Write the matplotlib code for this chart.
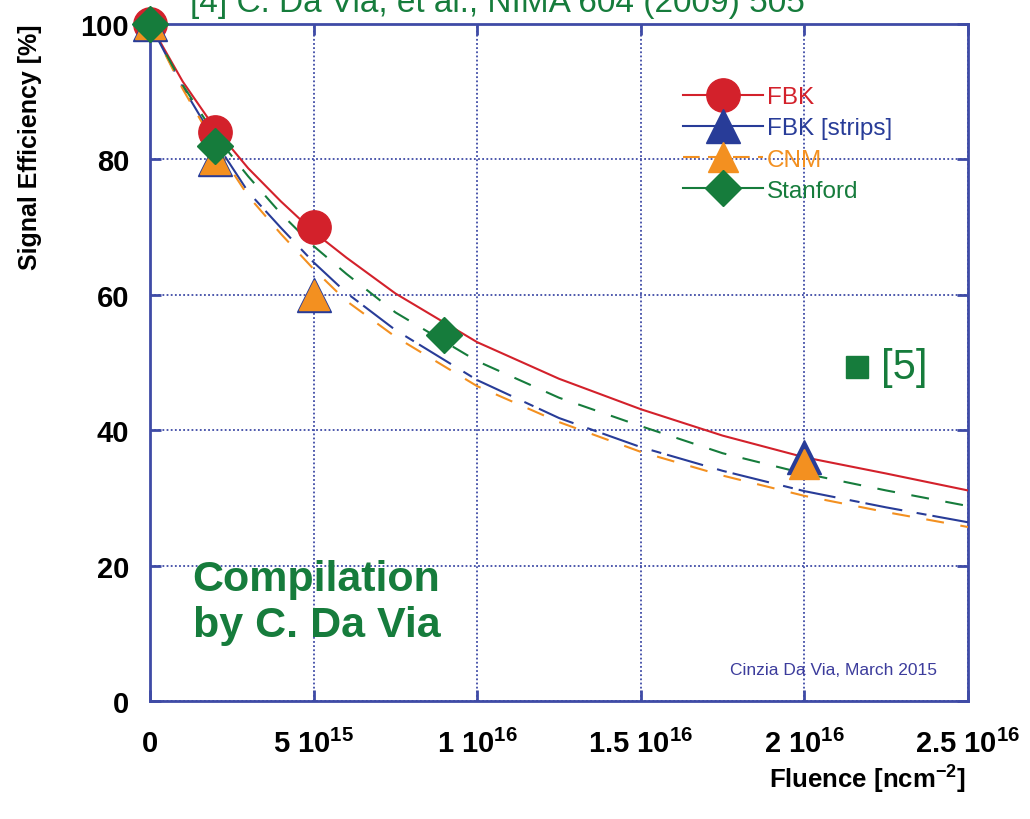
import matplotlib
matplotlib.use("Agg")
import matplotlib.pyplot as plt
from matplotlib.ticker import FixedLocator, FixedFormatter

plt.rcParams['mathtext.fontset'] = 'custom'
plt.rcParams['mathtext.rm'] = 'Liberation Sans:bold'
plt.rcParams['mathtext.it'] = 'Liberation Sans:bold'
plt.rcParams['mathtext.bf'] = 'Liberation Sans:bold'
plt.rcParams['mathtext.default'] = 'rm'

SANS = ['Liberation Sans', 'DejaVu Sans']

# fitted curves, fluence in units of 1e15
curve_x = [0, 1, 2, 3, 4, 5, 6, 7.5, 10, 12.5, 15, 17.5, 20, 22.5, 25]
fbk_curve = [100, 91.5, 84.5, 78.7, 73.8, 69.3, 65.5, 60.2, 53.0, 47.6, 43.1, 39.2, 36.0, 33.6, 31.1]
strips_curve = [100, 90.7, 82.6, 75.2, 69.9, 64.8, 60.3, 54.8, 47.4, 41.8, 37.5, 34.0, 31.0, 28.6, 26.4]
cnm_curve = [100, 90.4, 82.0, 74.6, 69.0, 63.8, 59.1, 53.8, 46.5, 41.2, 36.8, 33.3, 30.3, 27.9, 25.7]
stanford_curve = [100, 91.0, 83.5, 77.5, 72.0, 67.2, 63.1, 57.4, 50.2, 44.8, 40.6, 36.6, 33.6, 31.1, 28.8]

# measured points
fbk_x = [0, 2, 5]
fbk_y = [100, 84, 70]
strips_x = [0, 2, 5, 20]
strips_y = [100, 80, 60, 36]
cnm_x = [0, 2, 5, 20]
cnm_y = [100, 80, 60, 35]
stanford_x = [0, 2, 9]
stanford_y = [100, 82, 54]
ref5_x = [21.6]
ref5_y = [49.3]

x_ticks = [0, 5, 10, 15, 20, 25]
x_labels = ['0', r'5 10$^{15}$', r'1 10$^{16}$', r'1.5 10$^{16}$', r'2 10$^{16}$', r'2.5 10$^{16}$']
y_ticks = [0, 20, 40, 60, 80, 100]

RED = '#d3212b'
BLUE = '#283c98'
ORANGE = '#f39020'
GREEN = '#167c3c'
FRAME = '#3f4ba6'

fig = plt.figure(figsize=(10.3, 8.2), dpi=100)
ax = fig.add_axes([150 / 1030, 1 - 702 / 820, 818 / 1030, 677 / 820])

sc = 1e15
ax.plot([v * sc for v in curve_x], fbk_curve, color=RED, lw=1.5, zorder=3)
ax.plot([v * sc for v in curve_x], strips_curve, color=BLUE, lw=1.5,
        dashes=(4.8, 2.9, 18, 7), zorder=3)
ax.plot([v * sc for v in curve_x], cnm_curve, color=ORANGE, lw=1.5,
        dashes=(8.6, 8), zorder=3)
ax.plot([v * sc for v in curve_x], stanford_curve, color=GREEN, lw=1.5,
        dashes=(8.6, 8), zorder=3)

ax.plot([v * sc for v in fbk_x], fbk_y, 'o', color=RED, ms=24,
        clip_on=False, zorder=5)
ax.plot([v * sc for v in strips_x], strips_y, '^', color=BLUE, ms=25,
        clip_on=False, zorder=5)
ax.plot([v * sc for v in cnm_x], cnm_y, '^', color=ORANGE, ms=22,
        clip_on=False, zorder=6)
ax.plot([v * sc for v in stanford_x], stanford_y, 'D', color=GREEN, ms=18,
        clip_on=False, zorder=7)
ax.plot([v * sc for v in ref5_x], ref5_y, 's', color=GREEN, ms=16, zorder=7)
ax.text(ref5_x[0] * sc + 0.75 * sc, ref5_y[0], '[5]', color=GREEN, fontsize=30,
        family=SANS, va='center', ha='left')

ax.set_xlim(0, 25 * sc)
ax.set_ylim(0, 100)
ax.xaxis.set_major_locator(FixedLocator([v * sc for v in x_ticks]))
ax.xaxis.set_major_formatter(FixedFormatter(x_labels))
ax.set_yticks(y_ticks)
ax.grid(True, color=FRAME, lw=1.3, linestyle=(0, (1, 1.3)))
ax.set_axisbelow(True)
for sp in ax.spines.values():
    sp.set_color(FRAME)
    sp.set_linewidth(2)
ax.tick_params(direction='in', length=8, width=2, color=FRAME,
               top=True, right=True, labelsize=21)
ax.tick_params(axis='x', pad=20)
ax.tick_params(axis='y', pad=15)
for lab in ax.get_xticklabels() + ax.get_yticklabels():
    lab.set_family(SANS)
    lab.set_fontweight('bold')

# legend: line + marker per series
lh = [
    plt.Line2D([], [], color=RED, lw=1.5, marker='o', ms=24),
    plt.Line2D([], [], color=BLUE, lw=1.5, marker='^', ms=25),
    plt.Line2D([], [], color=ORANGE, lw=1.5, marker='^', ms=22, dashes=(8, 4)),
    plt.Line2D([], [], color=GREEN, lw=1.5, marker='D', ms=18),
]
fig.legend(lh, ['FBK', 'FBK [strips]', 'CNM', 'Stanford'],
           loc='upper left', bbox_to_anchor=(683 / 1030, 1 - 87 / 820),
           frameon=False, numpoints=1, handlelength=3.3, handletextpad=0.15,
           labelspacing=0.38, borderpad=0, borderaxespad=0,
           prop={'family': SANS, 'size': 17.5},
           labelcolor=[RED, BLUE, ORANGE, GREEN])

ax.text(0.052, 0.146, 'Compilation\nby C. Da Via', transform=ax.transAxes,
        color=GREEN, fontsize=31, fontweight='bold', family=SANS,
        ha='left', va='center', linespacing=1.2)
ax.text(0.962, 0.047, 'Cinzia Da Via, March 2015', transform=ax.transAxes,
        color='#3c3c9c', fontsize=12.5, family=SANS, ha='right', va='center')

fig.text(190 / 1030, 1 - 12 / 820, '[4] C. Da Via, et al., NIMA 604 (2009) 505',
         color=GREEN, fontsize=24, family=SANS, ha='left', va='baseline')
fig.text(30 / 1030, 1 - 24 / 820, 'Signal Efficiency [%]', rotation=90,
         fontsize=18, fontweight='bold', family=SANS, ha='center', va='top')
fig.text(966 / 1030, 1 - 780 / 820, r'Fluence [ncm$^{-2}$]',
         fontsize=18.5, fontweight='bold', family=SANS, ha='right', va='center')

fig.savefig('out.png', dpi=100)
